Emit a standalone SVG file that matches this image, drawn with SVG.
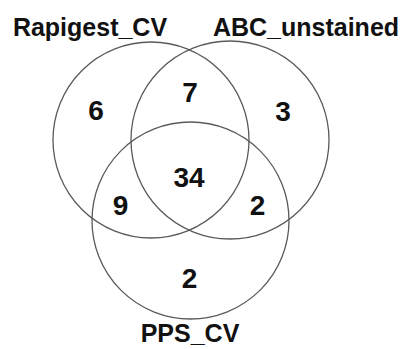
<svg xmlns="http://www.w3.org/2000/svg" width="406" height="349" viewBox="0 0 406 349">
<style>
.c{fill:none;stroke:#5a5a5a;stroke-width:1.3}
.lbl{font-family:"Liberation Sans",Arial,sans-serif;font-weight:bold;font-size:25px;fill:#111;text-anchor:middle}
.num{font-family:"Liberation Sans",Arial,sans-serif;font-weight:bold;font-size:28px;fill:#111;text-anchor:middle}
</style>
<rect width="406" height="349" fill="#fff"/>
<g id="connectors"></g>
<g id="rapigest"><circle class="c" cx="151" cy="140" r="98"/><text class="lbl" x="90" y="36">Rapigest_CV</text></g>
<g id="abc"><circle class="c" cx="230" cy="140" r="99"/><text class="lbl" x="306" y="36">ABC_unstained</text></g>
<g id="pps"><circle class="c" cx="190.5" cy="220.5" r="98.5"/><text class="lbl" x="190" y="342">PPS_CV</text></g>
<g id="counts">
<text class="num" x="96" y="120">6</text>
<text class="num" x="190" y="101.5">7</text>
<text class="num" x="283" y="121">3</text>
<text class="num" x="189" y="187">34</text>
<text class="num" x="120.5" y="215">9</text>
<text class="num" x="257.5" y="215">2</text>
<text class="num" x="189.5" y="288">2</text>
</g>
</svg>
